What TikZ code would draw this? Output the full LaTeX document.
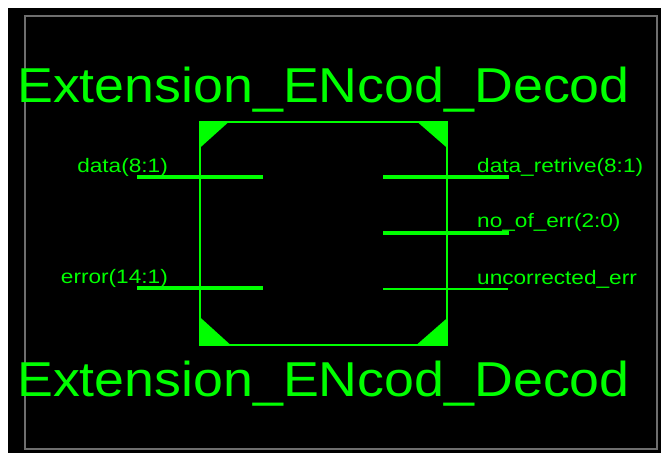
\documentclass[tikz,border=0pt]{standalone}
\usepackage{fontspec}
\setmainfont{Liberation Sans}
\definecolor{sig}{RGB}{0,255,0}
\definecolor{framegrey}{RGB}{110,110,110}
\tikzset{
  pinlbl/.style={text=sig, font=\fontsize{19.5}{20}\selectfont, inner sep=0pt},
  titlelbl/.style={text=sig, font=\fontsize{49}{50}\selectfont, inner sep=0pt, anchor=base west},
  buspin/.style={draw=sig, line width=4pt},
  wirepin/.style={draw=sig, line width=1.3pt},
  corner/.style={fill=sig, draw=none},
}
\newcommand{\wide}[2]{\scalebox{#1}[1]{#2}}
\begin{document}
\begin{tikzpicture}[x=1pt, y=-1pt]
  % canvas
  \useasboundingbox (0,0) rectangle (661,455);
  \fill[white] (0,0) rectangle (661,455);
  \fill[black] (8,8) rectangle (661,453);
  \draw[framegrey, line width=1.2pt] (25,16) rectangle (657,449);

  % component body
  \node[draw=sig, line width=1.3pt, minimum width=247pt, minimum height=223pt,
        inner sep=0pt] (blk) at (323.5,233.5) {};
  \fill[corner] (blk.north west) -- ++(30,0) -- ++(-30,27) -- cycle;
  \fill[corner] (blk.north east) -- ++(-31,0) -- ++(31,27) -- cycle;
  \fill[corner] (blk.south west) -- ++(32,0) -- ++(-32,-29) -- cycle;
  \fill[corner] (blk.south east) -- ++(-32,0) -- ++(32,-28) -- cycle;

  % titles
  \node[titlelbl] (ttop) at (17,102) {\wide{1.097}{Extension\_ENcod\_Decod}};
  \node[titlelbl] (tbot) at (17,396) {\wide{1.097}{Extension\_ENcod\_Decod}};

  % input pins
  \coordinate (dIn) at (137,177);
  \coordinate (dEnd) at (263,177);
  \coordinate (eIn) at (137,288);
  \coordinate (eEnd) at (263,288);
  \draw[buspin] (dIn) -- (dEnd);
  \draw[buspin] (eIn) -- (eEnd);
  \node[pinlbl, anchor=base east] (ldata) at (168,172) {\wide{1.16}{data(8:1)}};
  \node[pinlbl, anchor=base east] (lerr) at (168,283) {\wide{1.16}{error(14:1)}};

  % output pins
  \coordinate (rStart) at (383,177);
  \coordinate (rOut) at (509,177);
  \coordinate (nStart) at (383,233);
  \coordinate (nOut) at (509,233);
  \coordinate (uStart) at (383,289);
  \coordinate (uOut) at (508,289);
  \draw[buspin] (rStart) -- (rOut);
  \draw[buspin] (nStart) -- (nOut);
  \draw[wirepin] (uStart) -- (uOut);
  \node[pinlbl, anchor=base west] (lret) at (477,172) {\wide{1.16}{data\_retrive(8:1)}};
  \node[pinlbl, anchor=base west] (lnum) at (477,227) {\wide{1.16}{no\_of\_err(2:0)}};
  \node[pinlbl, anchor=base west] (lunc) at (477,284) {\wide{1.16}{uncorrected\_err}};
\end{tikzpicture}
\end{document}
